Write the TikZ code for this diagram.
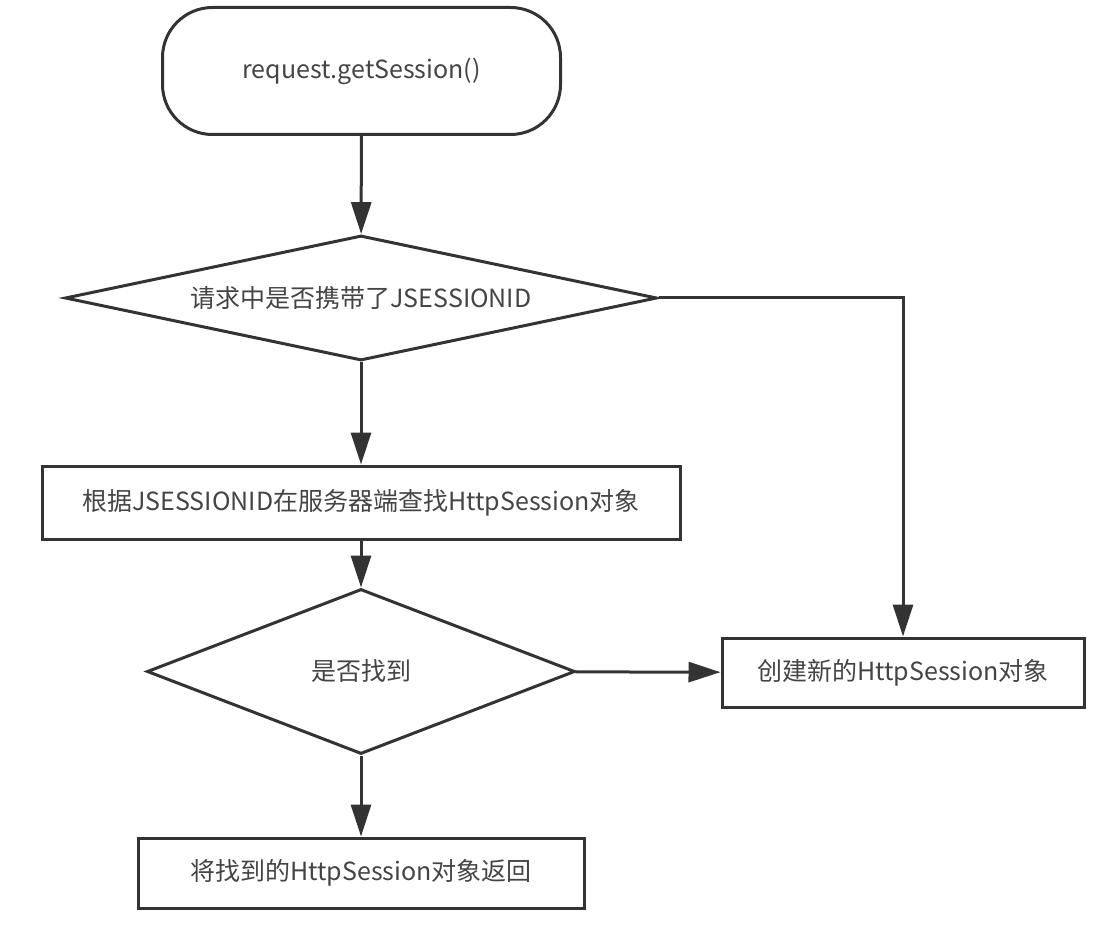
\documentclass[tikz,border=0pt]{standalone}
\usepackage{fontspec}
\setmainfont{Noto Sans CJK SC}
\usetikzlibrary{arrows.meta, shapes.geometric}
\definecolor{linegray}{HTML}{333333}
\definecolor{textgray}{HTML}{444444}

\begin{document}
\begin{tikzpicture}[x=1pt, y=-1pt, ->, >={Triangle[length=32pt, width=20pt]}, line width=3pt, color=linegray,
		font=\fontsize{25}{29}\selectfont,
		startbox/.style={draw, rectangle, rounded corners=50pt, minimum width=398pt, minimum height=127pt, text=textgray},
		box/.style={draw, rectangle, inner sep=0pt, text=textgray},
		decision/.style={draw, diamond, inner sep=0pt, text=textgray}]
		\useasboundingbox (0, 0) rectangle (1098, 925);
		\node[startbox] (start) at (361.5, 71) {request.getSession()};
		\node[decision, aspect=4.8, minimum width=592pt, minimum height=125pt] (hasid) at (361, 298) {请求中是否携带了JSESSIONID};
		\node[box, minimum width=638pt, minimum height=73pt] (lookup) at (361, 502.5) {根据JSESSIONID在服务器端查找HttpSession对象};
		\node[decision, aspect=2.6, minimum width=428pt, minimum height=165pt] (found) at (361, 671.5) {是否找到};
		\node[box, minimum width=362pt, minimum height=69pt] (create) at (903, 672.5) {创建新的HttpSession对象};
		\node[box, minimum width=446pt, minimum height=70pt] (ret) at (361, 873) {将找到的HttpSession对象返回};
		
		\path (start) edge (hasid)
		(hasid) edge (lookup)
		(lookup) edge (found)
		(found) edge (ret)
		(found) edge (create);
		\draw (hasid.east) -| (create.north);
	\end{tikzpicture}
\end{document}
